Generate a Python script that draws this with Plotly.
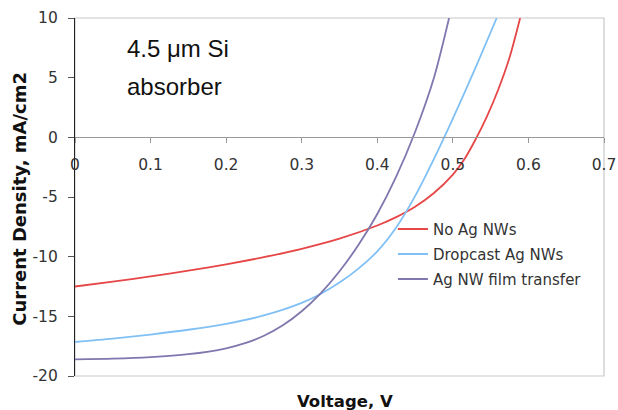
import plotly.graph_objects as go

# Data (Voltage in V, current density in mA/cm2)
v_no = [0, 0.05, 0.1, 0.15, 0.2, 0.25, 0.3, 0.35, 0.4, 0.425, 0.45, 0.475, 0.5, 0.515, 0.53, 0.545, 0.56, 0.575, 0.589]
j_no = [-12.5, -12.09, -11.65, -11.17, -10.64, -10.04, -9.34, -8.49, -7.39, -6.69, -5.82, -4.67, -3.12, -1.86, -0.18, 1.74, 3.99, 6.69, 10.0]

v_drop = [0, 0.05, 0.1, 0.15, 0.2, 0.25, 0.3, 0.325, 0.35, 0.375, 0.4, 0.425, 0.45, 0.475, 0.5, 0.53, 0.558]
j_drop = [-17.15, -16.875, -16.525, -16.125, -15.625, -14.925, -13.875, -13.125, -12.175, -11.0, -9.55, -7.55, -4.925, -1.8, 1.575, 5.835, 10.0]

v_film = [0, 0.05, 0.1, 0.15, 0.2, 0.225, 0.25, 0.275, 0.3, 0.325, 0.35, 0.375, 0.4, 0.425, 0.45, 0.475, 0.495]
j_film = [-18.6, -18.55, -18.425, -18.175, -17.675, -17.25, -16.625, -15.75, -14.575, -13.075, -11.225, -9.025, -6.425, -3.3, 0.45, 5.0, 10.0]

names = ["No Ag NWs", "Dropcast Ag NWs", "Ag NW film transfer"]
colors = ["#E64646", "#80C0F4", "#7E78AE"]

x_ticks = [0, 0.1, 0.2, 0.3, 0.4, 0.5, 0.6, 0.7]
x_ticklabels = ["0", "0.1", "0.2", "0.3", "0.4", "0.5", "0.6", "0.7"]
y_ticks = [-20, -15, -10, -5, 0, 5, 10]
y_ticklabels = ["-20", "-15", "-10", "-5", "0", "5", "10"]

TICKFONT = dict(family="DejaVu Sans, Verdana, sans-serif", size=15.5, color="#333333")

fig = go.Figure()
for v, j, n, c in zip([v_no, v_drop, v_film], [j_no, j_drop, j_film], names, colors):
    fig.add_trace(go.Scatter(x=v, y=j, name=n, mode="lines",
                             line=dict(color=c, width=1.8, shape="spline", smoothing=0.8),
                             legendgroup=n))

fig.update_layout(
    width=618, height=410,
    margin=dict(l=75, r=14, t=18, b=34),
    paper_bgcolor="white", plot_bgcolor="white",
    showlegend=True,
    legend=dict(x=0.601, y=0.456, xanchor="left", yanchor="top",
                font=dict(family="DejaVu Sans, Verdana, sans-serif", size=15, color="#333333"),
                bgcolor="rgba(0,0,0,0)", tracegroupgap=2.5, itemwidth=30),
    xaxis=dict(range=[0, 0.7], tickvals=x_ticks, ticktext=x_ticklabels, automargin=False,
               anchor="free", position=2/3, showline=True, linecolor="#999999", linewidth=1.2,
               ticks="outside", ticklen=5, tickcolor="#999999", tickwidth=1,
               ticklabelstandoff=8, tickfont=TICKFONT, showgrid=False, zeroline=False),
    yaxis=dict(range=[-20, 10], tickvals=y_ticks, ticktext=y_ticklabels, automargin=False,
               showline=True, linecolor="#222222", linewidth=1.2,
               ticks="outside", ticklen=6, tickcolor="#555555", ticklabelstandoff=7,
               tickfont=TICKFONT, showgrid=False, zeroline=False),
    shapes=[dict(type="rect", xref="paper", yref="paper", x0=0, x1=1, y0=0, y1=1,
                 line=dict(color="#C8C8C8", width=1.2), layer="below")],
    annotations=[
        dict(text="<b>Voltage, V</b>", xref="paper", yref="paper", x=0.51, y=-0.07,
             xanchor="center", yanchor="middle", showarrow=False,
             font=dict(family="DejaVu Sans, Verdana, sans-serif", size=16.5, color="#111111")),
        dict(text="<b>Current Density, mA/cm2</b>", xref="paper", yref="paper", x=-0.104, y=0.495,
             xanchor="center", yanchor="middle", showarrow=False, textangle=-90,
             font=dict(family="DejaVu Sans, Verdana, sans-serif", size=18, color="#111111")),
        dict(text="4.5 μm Si", xref="paper", yref="paper", x=0.0945, y=0.914,
             xanchor="left", yanchor="middle", showarrow=False,
             font=dict(family="Liberation Sans, Arial, sans-serif", size=24, color="#111111")),
        dict(text="absorber", xref="paper", yref="paper", x=0.0945, y=0.809,
             xanchor="left", yanchor="middle", showarrow=False,
             font=dict(family="Liberation Sans, Arial, sans-serif", size=24, color="#111111")),
    ],
)

fig.write_html("out.html")
